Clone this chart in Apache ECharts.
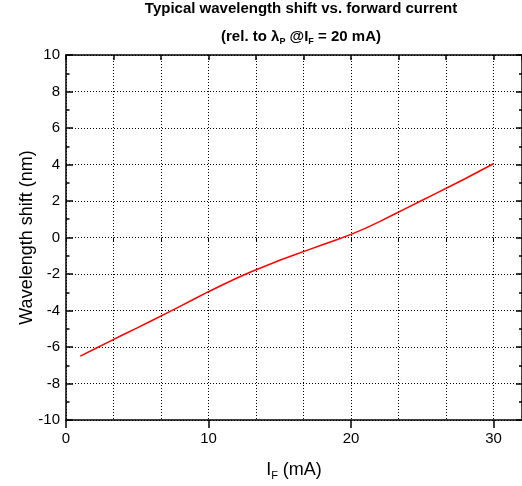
<!DOCTYPE html>
<html>
<head>
<meta charset="utf-8">
<script src="https://cdn.jsdelivr.net/npm/echarts@6/dist/echarts.min.js"></script>
<style>
html,body{margin:0;padding:0;background:#fff;}
#chart{width:522px;height:486px;}
</style>
</head>
<body>
<div id="chart"></div>
<script>
var currentMA = [1,2,3,4,5,6,7,8,9,10,11,12,13,14,15,16,17,18,19,20,21,22,23,24,25,26,27,28,29,30];
var shiftNm = [-6.50,-6.11,-5.72,-5.33,-4.95,-4.56,-4.17,-3.77,-3.37,-2.97,-2.59,-2.22,-1.88,-1.56,-1.25,-0.96,-0.68,-0.40,-0.12,0.17,0.50,0.87,1.26,1.65,2.04,2.43,2.82,3.22,3.63,4.04];
var titleLine1 = 'Typical wavelength shift vs. forward current';
var yAxisName = 'Wavelength shift (nm)';

var FONT = "'Liberation Sans', Arial, sans-serif";
var gridStyle = {show:true, lineStyle:{color:'#000', width:1, type:[1,2]}};
var axisLine = {show:true, onZero:false, lineStyle:{color:'#000', width:1.5}};

var chart = echarts.init(document.getElementById('chart'), null, {renderer:'canvas'});
chart.setOption({
  animation:false,
  backgroundColor:'#fff',
  textStyle:{fontFamily:FONT},
  title:[
    {text:titleLine1, left:301, top:1, textAlign:'center', padding:0,
     textStyle:{fontFamily:FONT, fontSize:15, fontWeight:'bold', color:'#000'}},
    {text:'{m|(rel. to λ}{s|P}{m| @I}{s|F}{m| = 20 mA)}', left:301, top:28, textAlign:'center', padding:0,
     textStyle:{fontFamily:FONT, fontSize:15, fontWeight:'bold', color:'#000',
       rich:{
         m:{fontFamily:FONT, fontSize:15, fontWeight:'bold', color:'#000', lineHeight:18},
         s:{fontFamily:FONT, fontSize:9, fontWeight:'bold', color:'#000', lineHeight:10, verticalAlign:'bottom'}
       }}}
  ],
  grid:{left:66, top:55, right:-1, bottom:61, containLabel:false},
  xAxis:[
    {type:'value', position:'bottom', min:0, max:32, interval:10,
     name:'{m|I}{s|F}{m| (mA)}', nameLocation:'middle', nameGap:39, nameMoveOverlap:false,
     nameTextStyle:{fontFamily:FONT, fontSize:18, color:'#000',
       rich:{
         m:{fontFamily:FONT, fontSize:18, color:'#000', lineHeight:22},
         s:{fontFamily:FONT, fontSize:11, color:'#000', lineHeight:9, verticalAlign:'bottom'}
       }},
     axisLine:axisLine,
     axisTick:{show:true, inside:false, length:8, lineStyle:{color:'#000', width:1.5}},
     axisLabel:{show:true, margin:11, fontSize:15, color:'#000', fontFamily:FONT, showMaxLabel:false},
     splitLine:{show:false}},
    {type:'value', position:'bottom', min:0, max:32, interval:10/3,
     axisLine:{show:false},
     axisTick:{show:true, inside:false, length:4, lineStyle:{color:'#000', width:1}},
     axisLabel:{show:false},
     splitLine:gridStyle},
    {type:'value', position:'top', min:0, max:32, interval:10/3,
     axisLine:axisLine,
     axisTick:{show:true, inside:true, length:5, lineStyle:{color:'#000', width:1.5}},
     axisLabel:{show:false},
     splitLine:{show:false}}
  ],
  yAxis:[
    {type:'value', position:'left', min:-10, max:10, interval:2,
     name:yAxisName, nameLocation:'middle', nameGap:30, nameRotate:90, nameMoveOverlap:false,
     nameTextStyle:{fontFamily:FONT, fontSize:18, color:'#000'},
     axisLine:axisLine,
     axisTick:{show:true, inside:true, length:7, lineStyle:{color:'#000', width:1.5}},
     minorTick:{show:true, splitNumber:2, length:3.5, lineStyle:{color:'#000', width:1.5}},
     axisLabel:{show:true, margin:6, fontSize:15, color:'#000', fontFamily:FONT},
     splitLine:gridStyle},
    {type:'value', position:'right', min:-10, max:10, interval:2,
     axisLine:axisLine,
     axisTick:{show:true, inside:true, length:6, lineStyle:{color:'#000', width:1.5}},
     minorTick:{show:true, splitNumber:2, length:3, lineStyle:{color:'#000', width:1.5}},
     axisLabel:{show:false},
     splitLine:{show:false}}
  ],
  series:[
    {type:'line', xAxisIndex:0, yAxisIndex:0,
     data:currentMA.map(function(x,i){return [x, shiftNm[i]];}),
     showSymbol:false, symbol:'none', smooth:false,
     lineStyle:{color:'#ff0000', width:1.5}}
  ]
});
</script>
</body>
</html>
